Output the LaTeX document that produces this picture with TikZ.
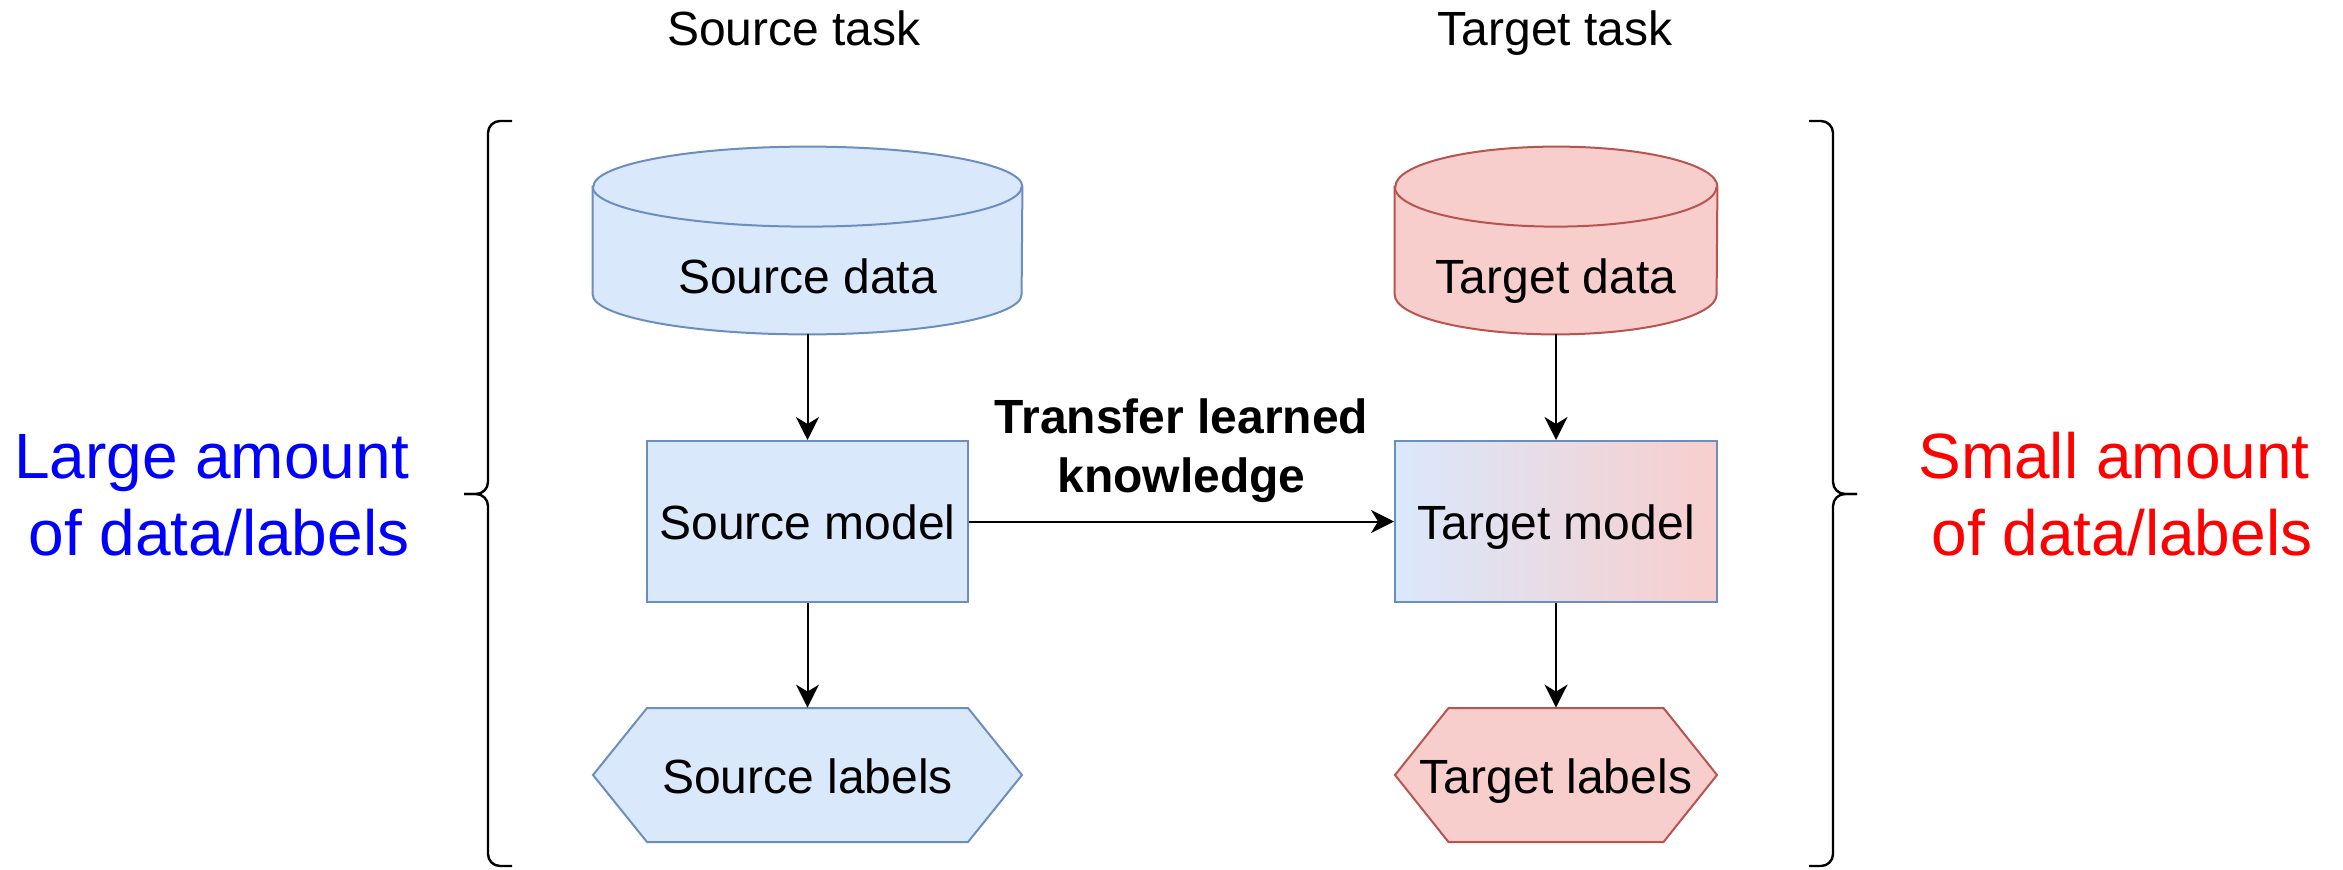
\documentclass[tikz,border=0pt]{standalone}
\usepackage{fontspec}
\setmainfont{Liberation Sans}
\usetikzlibrary{arrows.meta,backgrounds,calc}

\definecolor{srcfill}{HTML}{DAE8FC}
\definecolor{srcline}{HTML}{6C8EBF}
\definecolor{tgtfill}{HTML}{F8CECC}
\definecolor{tgtline}{HTML}{B85450}
\definecolor{bigblue}{HTML}{0000FF}
\definecolor{bigred}{HTML}{FF0000}

% database cylinder drawn behind a node: name, fill, stroke, x radius
\newcommand{\dbshape}[4]{%
  \begin{scope}[on background layer]
    \draw[line width=1pt, draw=#3, fill=#2]
      ($(#1.north west)+(0,40)$) -- ($(#1.south west)+(0,-40)$)
      arc[start angle=180, end angle=360, x radius=#4, y radius=20pt]
      -- ($(#1.north east)+(0,40)$)
      arc[start angle=0, end angle=180, x radius=#4, y radius=20pt] -- cycle;
    \draw[line width=1pt, draw=#3] ($(#1.north west)+(0,40)$)
      arc[start angle=180, end angle=360, x radius=#4, y radius=20pt];
  \end{scope}}

% hexagon drawn behind a node: name, fill, stroke, half flat width, half full width
\newcommand{\hexshape}[5]{%
  \begin{scope}[on background layer]
    \draw[line width=1pt, draw=#3, fill=#2]
      ($(#1.center)+(-#4,-67)$) -- ($(#1.center)+(#4,-67)$) -- ($(#1.center)+(#5,0)$)
      -- ($(#1.center)+(#4,67)$) -- ($(#1.center)+(-#4,67)$) -- ($(#1.center)+(-#5,0)$) -- cycle;
  \end{scope}}

\begin{document}
\begin{tikzpicture}[x=0.5pt, y=-0.5pt,
  txt/.style={font=\fontsize{24}{29.5}\selectfont, inner sep=0pt},
  bold/.style={font=\fontsize{24}{29.5}\selectfont\bfseries, inner sep=0pt},
  big/.style={font=\fontsize{32}{38.4}\selectfont, inner sep=0pt},
  datastore/.style={txt, minimum height=93.5pt, text height=52.5pt, text depth=0pt},
  modelbox/.style={txt, draw, line width=1pt, minimum height=80.5pt, text height=17.5pt, text depth=0pt},
  labelbox/.style={txt, minimum height=67pt, text height=18pt, text depth=0pt},
  conn/.style={-{Stealth[length=11.5pt, width=11.5pt, inset=3.5pt]}, line width=1pt},
  brace/.style={line width=1.2pt, rounded corners=6pt}]

\useasboundingbox (0,0) rectangle (2343,869);

% column titles
\node[txt, anchor=base] (srctitle) at (794,45) {Source task};
\node[txt, anchor=base] (tgttitle) at (1555,45) {Target task};

% source column
\node[datastore, minimum width=214.5pt] (srcdata) at (807.5,240.5) {Source data};
\dbshape{srcdata}{srcfill}{srcline}{107.25pt}
\node[modelbox, draw=srcline, fill=srcfill, minimum width=160.5pt] (srcmodel) at (807.5,521.5) {Source model};
\node[labelbox] (srclabels) at (807.5,775) {Source labels};
\hexshape{srclabels}{srcfill}{srcline}{160.5}{214.5}

% target column
\node[datastore, minimum width=161pt] (tgtdata) at (1556,240.5) {Target data};
\dbshape{tgtdata}{tgtfill}{tgtline}{80.5pt}
\node[modelbox, draw=srcline, left color=srcfill, right color=tgtfill, minimum width=161pt] (tgtmodel) at (1556,521.5) {Target model};
\node[labelbox] (tgtlabels) at (1556,775) {Target labels};
\hexshape{tgtlabels}{tgtfill}{tgtline}{107.5}{161}

% connectors
\draw[conn] (srcdata) -- (srcmodel);
\draw[conn] (srcmodel) -- (srclabels);
\draw[conn] (tgtdata) -- (tgtmodel);
\draw[conn] (tgtmodel) -- (tgtlabels);
\draw[conn] (srcmodel) -- (tgtmodel);

% transfer caption
\node[bold, anchor=base] (transfer1) at (1181.5,433) {Transfer learned};
\node[bold, anchor=base] (transfer2) at (1181.5,492) {knowledge};

% braces
\draw[brace] (512,121) -- (488,121) -- (488,494) -- (464,494);
\draw[brace] (464,494) -- (488,494) -- (488,866) -- (512,866);
\draw[brace] (1809,121) -- (1833,121) -- (1833,494) -- (1857,494);
\draw[brace] (1857,494) -- (1833,494) -- (1833,866) -- (1809,866);

% side captions
\node[big, text=bigblue, anchor=base] (large1) at (211.5,478) {Large amount};
\node[big, text=bigblue, anchor=base] (large2) at (219,555) {of data/labels};
\node[big, text=bigred, anchor=base] (small1) at (2114,478) {Small amount};
\node[big, text=bigred, anchor=base] (small2) at (2122,555) {of data/labels};
\end{tikzpicture}
\end{document}
